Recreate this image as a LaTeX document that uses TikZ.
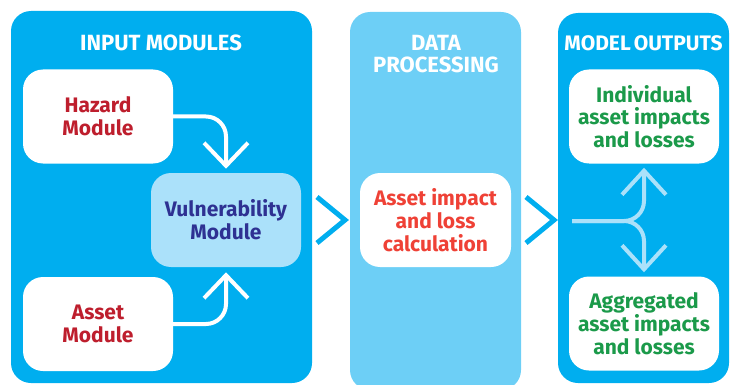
\documentclass[tikz,border=0pt]{standalone}
\usepackage{fontspec}
\setmainfont{Fira Sans}
\definecolor{panelblue}{HTML}{00AEEF}
\definecolor{datablue}{HTML}{6DCFF6}
\definecolor{paleblue}{HTML}{ABE1FA}
\definecolor{hazred}{HTML}{BE1E2D}
\definecolor{calcred}{HTML}{EF4136}
\definecolor{outgreen}{HTML}{1B9A4A}
\definecolor{vulnblue}{HTML}{2E3192}
\begin{document}
\begin{tikzpicture}[x=1pt,y=-1pt,
  panel/.style={rectangle, rounded corners=20pt, inner sep=0pt},
  whitebox/.style={rectangle, rounded corners=20pt, fill=white, minimum width=150pt, minimum height=94pt, inner sep=0pt, align=center, font=\fontsize{21}{22.8}\selectfont\bfseries},
  title/.style={text=white, align=center, font=\fontsize{22}{22}\selectfont\bfseries},
  wline/.style={draw=white, line width=4pt, rounded corners=20pt},
  bline/.style={draw=paleblue, line width=4pt, rounded corners=20pt},
  chev/.style={draw=panelblue, line width=5pt}
]
\useasboundingbox (0,0) rectangle (733,385);
% panels
\node[panel, fill=panelblue, minimum width=301pt, minimum height=372pt] (inp) at (161.5,197) {};
\node[panel, fill=datablue, minimum width=171pt, minimum height=378pt] (dat) at (435.5,201) {};
\node[panel, fill=panelblue, minimum width=171pt, minimum height=370pt] (out) at (643.5,198) {};
% titles
\node[title] (t1) at (161,43) {INPUT MODULES};
\node[title] (t2) at (436,54) {DATA\\PROCESSING};
\node[title, font=\fontsize{21}{22}\selectfont\bfseries] (t3) at (643.5,43) {MODEL\hspace{3pt}OUTPUTS};
% input boxes
\node[whitebox, text=hazred] (haz) at (98,116.5) {Hazard\\Module};
\node[whitebox, fill=paleblue, text=vulnblue] (vul) at (226,220) {Vulnerability\\Module};
\node[whitebox, text=hazred] (ast) at (98,324) {Asset\\Module};
% data box
\node[whitebox, minimum width=151pt, text=calcred] (calc) at (435.5,220) {Asset impact\\and loss\\calculation};
% output boxes
\node[whitebox, text=outgreen] (ind) at (644,116.5) {Individual\\asset impacts\\and losses};
\node[whitebox, text=outgreen] (agg) at (644,323.5) {Aggregated\\asset impacts\\and losses};
% input arrows
\coordinate (htip) at ([yshift=7pt]vul.north);
\coordinate (atip) at ([yshift=-8pt]vul.south);
\draw[wline] (haz.east) -| (htip);
\draw[draw=white, line width=4pt] ([xshift=-22pt,yshift=23pt]htip) -- (htip) -- ([xshift=22pt,yshift=23pt]htip);
\draw[wline] (ast.east) -| (atip);
\draw[draw=white, line width=4pt] ([xshift=-22pt,yshift=-23pt]atip) -- (atip) -- ([xshift=22pt,yshift=-23pt]atip);
% chevrons between panels
\coordinate (c1) at (345,220);
\coordinate (c2) at (554,220);
\draw[chev] ([xshift=-28pt,yshift=23pt]c1) -- (c1) -- ([xshift=-28pt,yshift=-23pt]c1);
\draw[chev] ([xshift=-28pt,yshift=23pt]c2) -- (c2) -- ([xshift=-28pt,yshift=-23pt]c2);
% branch arrow
\coordinate (bs) at (572,221);
\coordinate (itip) at ([yshift=-7pt]ind.south);
\coordinate (gtip) at ([yshift=7pt]agg.north);
\draw[bline] (bs) -| (itip);
\draw[bline] (bs) -| (gtip);
\draw[draw=paleblue, line width=4pt] ([xshift=-22pt,yshift=-24pt]itip) -- (itip) -- ([xshift=22pt,yshift=-24pt]itip);
\draw[draw=paleblue, line width=4pt] ([xshift=-22pt,yshift=24pt]gtip) -- (gtip) -- ([xshift=22pt,yshift=24pt]gtip);
\end{tikzpicture}
\end{document}
